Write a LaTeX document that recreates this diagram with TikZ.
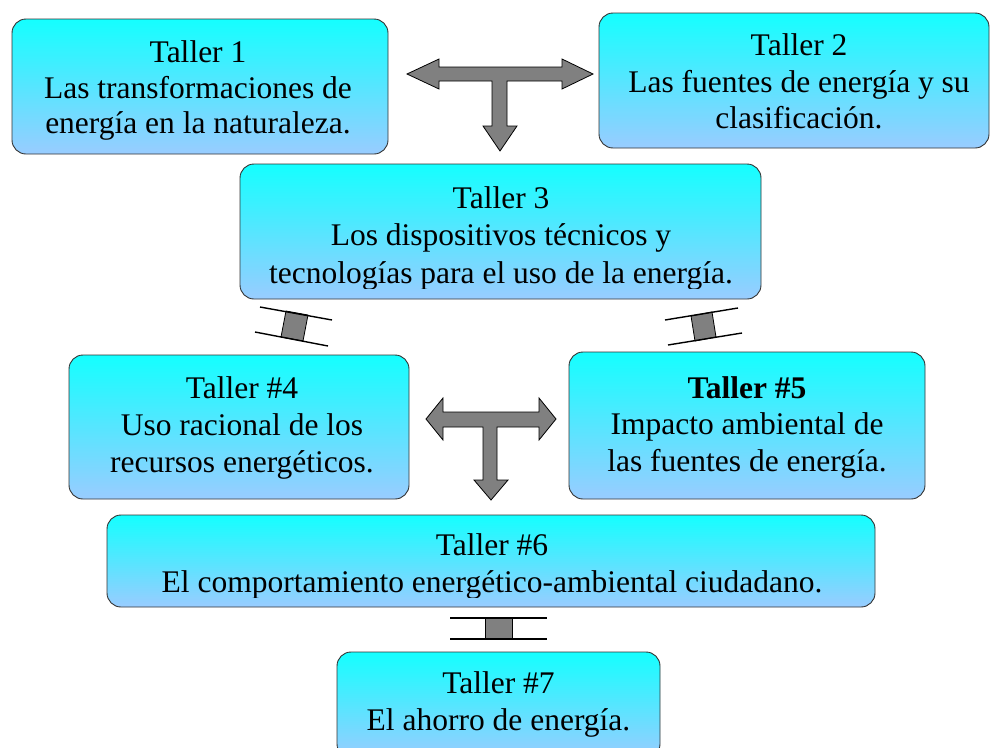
\documentclass[tikz,border=0pt]{standalone}
\usepackage{fontspec}
\setmainfont{Liberation Serif}
\definecolor{topc}{RGB}{20,255,255}
\definecolor{botc}{RGB}{153,204,255}
\definecolor{arrg}{RGB}{128,128,128}
\tikzset{
  box/.style={draw=black!80, line width=0.9pt, rounded corners=14pt, top color=topc, bottom color=botc},
  txt/.style={anchor=base, inner sep=0pt, font=\fontsize{31.5}{36.5}\selectfont},
  bigarrow/.style={draw=black, line width=0.8pt, fill=arrg, line join=miter},
  beamline/.style={draw=black, line width=1.4pt},
  beamfill/.style={draw=black, line width=0.8pt, fill=arrg}
}
\begin{document}
\begin{tikzpicture}[x=1pt,y=-1pt]
\useasboundingbox (0,0) rectangle (990,747);
% boxes
\path[box] (12,19) rectangle (388,154) coordinate (b1c);
\path[box] (599,13) rectangle (989,148) coordinate (b2c);
\path[box] (240,164) rectangle (761,299) coordinate (b3c);
\path[box] (69,355) rectangle (409,499) coordinate (b4c);
\path[box] (569,352) rectangle (925,499) coordinate (b5c);
\path[box] (107,515) rectangle (875,607) coordinate (b6c);
\path[box] (337,652) rectangle (660,758) coordinate (b7c);
% texts
\node[txt] (t1a) at (198,62) {Taller 1};
\node[txt] (t1b) at (198,98) {Las transformaciones de};
\node[txt] (t1c) at (198,133) {energía en la naturaleza.};
\node[txt] (t2a) at (799,55) {Taller 2};
\node[txt] (t2b) at (799,92) {Las fuentes de energía y su};
\node[txt] (t2c) at (799,128) {clasificación.};
\begin{scope}
\clip (240,164) rectangle (761,288);
\node[txt] (t3a) at (501,208) {Taller 3};
\node[txt] (t3b) at (501,245) {Los dispositivos técnicos y};
\node[txt] (t3c) at (501,283) {tecnologías para el uso de la energía.};
\end{scope}
\node[txt] (t4a) at (242,398) {Taller \#4};
\node[txt] (t4b) at (242,435) {Uso racional de los};
\node[txt] (t4c) at (242,472) {recursos energéticos.};
\node[txt, font=\fontsize{31.5}{36.5}\selectfont\bfseries] (t5a) at (747,398) {Taller \#5};
\node[txt] (t5b) at (747,434) {Impacto ambiental de};
\node[txt] (t5c) at (747,471) {las fuentes de energía.};
\begin{scope}
\clip (107,515) rectangle (875,597);
\node[txt] (t6a) at (492,555) {Taller \#6};
\node[txt] (t6b) at (492,592) {El comportamiento energético-ambiental ciudadano.};
\end{scope}
\node[txt] (t7a) at (498.5,693) {Taller \#7};
\node[txt] (t7b) at (498.5,730) {El ahorro de energía.};
% T arrow 1
\path[bigarrow] (407,74) -- (439,59) -- (439,67) -- (562,67) -- (562,59) -- (593,74)
  -- (562,89) -- (562,81) -- (507,81) -- (507,126) -- (517,126) -- (500,151)
  -- (483,126) -- (492,126) -- (492,81) -- (439,81) -- (439,89) -- cycle;
% T arrow 2
\path[bigarrow] (426,419) -- (443,398) -- (443,412) -- (539,412) -- (539,398) -- (556,419)
  -- (539,440) -- (539,427) -- (497,427) -- (497,480) -- (508,480) -- (491,500)
  -- (474,480) -- (483,480) -- (483,427) -- (443,427) -- (443,440) -- cycle;
% connector 3-4
\path[beamfill] (286,311) -- (308,315) -- (303,341) -- (281,337) -- cycle;
\path[beamline] (260,307) -- (332,320);
\path[beamline] (255,332) -- (328,346);
% connector 3-5
\path[beamfill] (691,316) -- (712,312) -- (716,337) -- (695,341) -- cycle;
\path[beamline] (665,320) -- (738,308);
\path[beamline] (668,345) -- (742,333);
% connector 6-7
\path[beamfill] (485,618) -- (512,618) -- (512,639) -- (485,639) -- cycle;
\path[beamline] (450,618) -- (547,618);
\path[beamline] (450,639) -- (547,639);
\end{tikzpicture}
\end{document}
